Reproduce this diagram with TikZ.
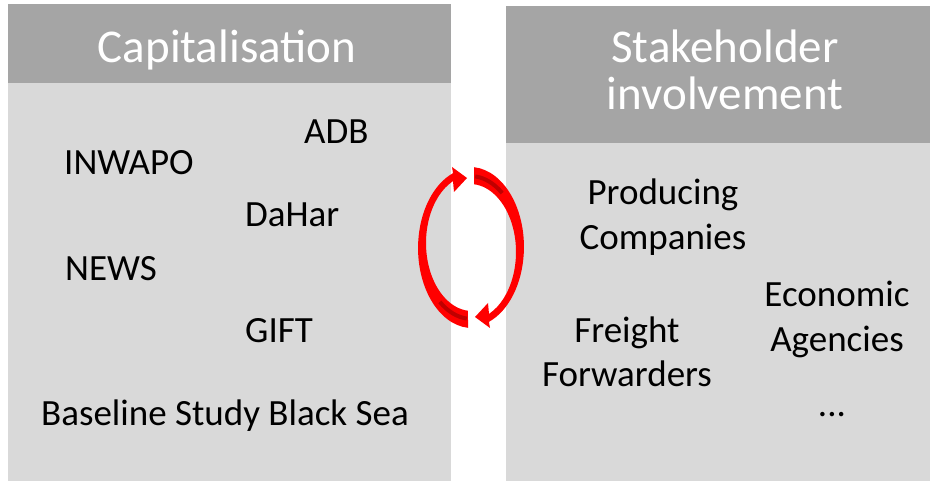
\documentclass[tikz,border=0pt]{standalone}
\usepackage{fontspec}
\setmainfont{Carlito}
\definecolor{headgray}{HTML}{A5A5A5}
\definecolor{bodygray}{HTML}{D9D9D9}
\definecolor{ringred}{HTML}{FF0000}
\definecolor{ringdark}{HTML}{C00000}
\begin{document}
\begin{tikzpicture}[x=1pt,y=-1pt,
  headbox/.style={fill=headgray,draw=none},
  bodybox/.style={fill=bodygray,draw=none},
  headtext/.style={text=white,font=\fontsize{47}{47}\selectfont,inner sep=0pt,align=center,anchor=base},
  item/.style={text=black,font=\fontsize{37}{45}\selectfont,inner sep=0pt,anchor=base west},
  citem/.style={text=black,font=\fontsize{37}{45}\selectfont,inner sep=0pt,align=center,anchor=base},
  ringpart/.style={fill=ringred,draw=none},
  ringshade/.style={draw=ringdark,line width=4pt}]
\useasboundingbox (0,0) rectangle (930,481);
% left panel
\fill[bodybox] (8,83) rectangle (451,481);
\fill[headbox] (8,4) rectangle (451,83);
\node[headtext] (caphead) at (227,63) {Capitalisation};
\node[item] (adb) at (304,144) {ADB};
\node[item] (inwapo) at (64,175) {INWAPO};
\node[item] (dahar) at (245,227) {DaHar};
\node[item] (news) at (65,281) {NEWS};
\node[item] (gift) at (245,343) {GIFT};
\node[item] (baseline) at (41,425) {Baseline Study Black Sea};
% right panel
\fill[bodybox] (506,143) rectangle (930,481);
\fill[headbox] (506,6) rectangle (930,143);
\node[headtext] (stakehead) at (725,110) {Stakeholder\\involvement};
\node[citem] (producing) at (663,250) {Producing\\Companies};
\node[citem] (freight) at (627,387) {Freight\\Forwarders};
\node[citem] (economic) at (837,352) {Economic\\Agencies};
\node[citem] (dots) at (832,417) {...};
% circular arrows
\foreach \rot in {0,180}{
\begin{scope}[rotate around={\rot:(471,247.5)}]
  \fill[ringpart] (474,167.2) arc[start angle=-85.7, end angle=69.4, x radius=54, y radius=80]
    -- (490,328) -- (475,317) -- (488,303) -- (489,313.9)
    arc[start angle=65.6, end angle=-85, x radius=46, y radius=68] -- cycle;
  \draw[ringshade] (470,249) ++(-84:50 and 73) arc[start angle=-84, end angle=-50, x radius=50, y radius=73];
\end{scope}
}
\end{tikzpicture}
\end{document}
